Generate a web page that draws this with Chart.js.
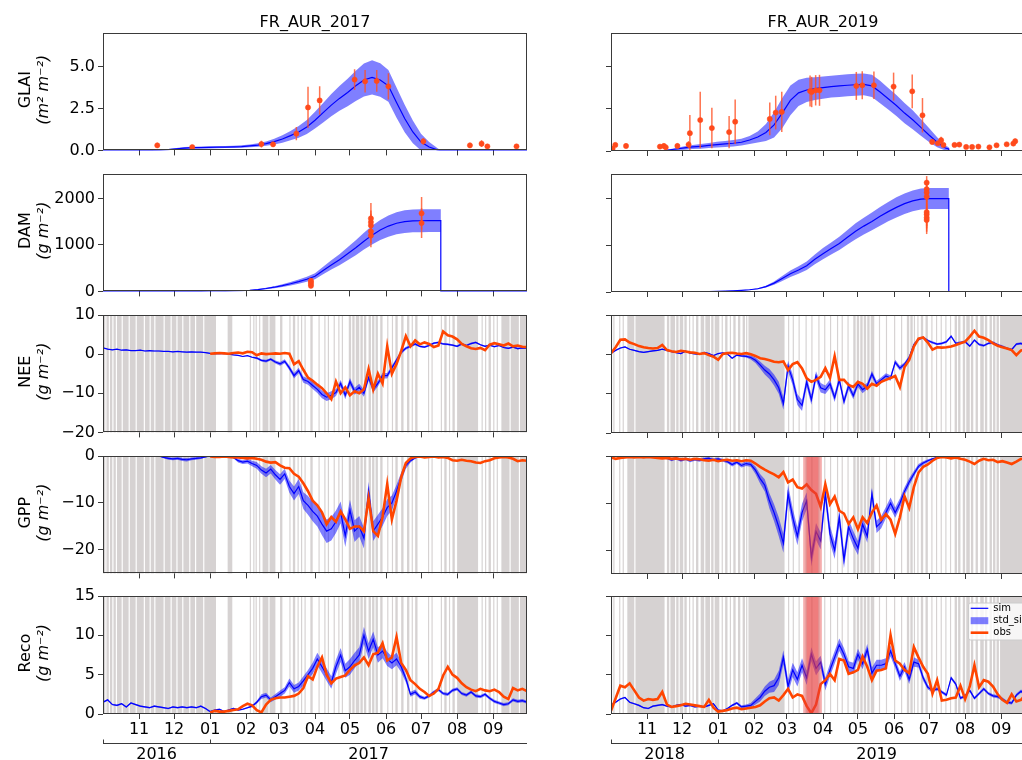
<!DOCTYPE html>
<html>
<head>
<meta charset="utf-8">
<script src="https://cdn.jsdelivr.net/npm/chart.js@4.4.0/dist/chart.umd.min.js"></script>
<style>
  html, body { margin: 0; padding: 0; background: #fff; overflow: hidden; width: 1022px; height: 760px; }
  canvas { position: absolute; }
</style>
</head>
<body>
<script>
// ---------- time axis (days since 1 October of the season) ----------
const MONTH_DAYS   = [31, 61, 92, 123, 151, 182, 212, 243, 273, 304, 335];
const MONTH_LABELS = ['11', '12', '01', '02', '03', '04', '05', '06', '07', '08', '09'];
const YEAR_BOUNDS  = [0, 92];
const YEAR_MIDS    = [46, 228];
const YEARS_2017   = ['2016', '2017'];
const YEARS_2019   = ['2018', '2019'];

// weekly sampling for leaf area and biomass (harvest on day 290)
const VEG_DAYS = [0,7,14,21,28,35,42, 49,56,63,70,77,84,91, 98,105,112,119,126,133,140,
  147,154,161,168,175,182,189, 196,203,210,217,224,231,238, 245,252,259,266,273,280,287,
  290,290, 294,301,308,315,322,329,336,343,350,357,364];

// ---------- GLAI ----------
const glaiSimL = [0,0,0,0,0,0,0, 0.01,0.05,0.1,0.14,0.16,0.17,0.18, 0.19,0.2,0.21,0.23,0.27,0.32,0.4,
  0.52,0.68,0.88,1.1,1.4,1.8,2.25, 2.7,3.1,3.45,3.85,4.2,4.35,4.2, 3.85,2.85,1.9,1.1,0.5,0.2,0.03,
  0,0, 0,0,0,0,0,0,0,0,0,0,0];
const glaiStdL = [0,0,0,0,0,0,0, 0.01,0.03,0.05,0.06,0.06,0.06,0.06, 0.06,0.06,0.06,0.07,0.08,0.1,0.13,
  0.17,0.22,0.28,0.35,0.42,0.5,0.58, 0.66,0.74,0.82,0.9,0.98,1.02,1.0, 0.95,0.9,0.82,0.68,0.5,0.3,0.12,
  0,0, 0,0,0,0,0,0,0,0,0,0,0];
const glaiSimR = [0,0,0,0,0,0,0, 0.06,0.12,0.18,0.24,0.28,0.33,0.38, 0.42,0.46,0.52,0.65,0.83,1.1,1.55,
  2.25,3.0,3.45,3.62,3.7,3.76,3.82, 3.86,3.9,3.93,3.95,3.86,3.5,3.1, 2.7,2.25,1.85,1.4,0.95,0.52,0.18,
  0.12,0, 0,0,0,0,0,0,0,0,0,0,0];
const glaiStdR = [0,0,0,0,0,0,0, 0.03,0.06,0.1,0.12,0.14,0.15,0.17, 0.18,0.19,0.2,0.24,0.32,0.5,0.75,
  0.9,0.88,0.78,0.72,0.68,0.66,0.65, 0.65,0.65,0.65,0.65,0.66,0.66,0.64, 0.62,0.6,0.56,0.5,0.42,0.3,0.15,
  0.1,0, 0,0,0,0,0,0,0,0,0,0,0];

const glaiObsDayL = [46.6, 76.6, 136, 146, 166, 176, 186, 216, 225, 235, 245, 275, 315, 325, 330, 355];
const glaiObsL    = [0.3, 0.2, 0.38, 0.36, 1.0, 2.56, 2.98, 4.22, 4.12, 4.14, 3.82, 0.54, 0.3, 0.4, 0.24, 0.24];
const glaiErrL    = [0.15, 0.1, 0.2, 0.15, 0.4, 1.23, 0.85, 0.62, 0.67, 0.65, 0.78, 0.2, 0.15, 0.2, 0.1, 0.1];

const glaiObsDayR = [1.4, 3.7, 12.9, 42, 45.4, 47, 57, 66.6, 67.7, 76.6, 86.6, 101.4, 106.6, 136.3, 141.4, 146.6,
  170.9, 172.3, 175.7, 179, 210.6, 215.7, 225.7, 242.6, 258.6, 267.4, 275.7, 280.6, 283.4, 285.4,
  294.9, 299, 304.9, 310, 315.4, 324.9, 331, 339.7, 345.4, 347];
const glaiObsR = [0.14, 0.36, 0.3, 0.26, 0.3, 0.22, 0.3, 0.38, 1.06, 1.84, 1.36, 1.12, 1.74, 1.9, 2.28, 2.32,
  3.56, 3.5, 3.6, 3.6, 3.86, 3.9, 3.9, 3.82, 3.54, 2.12, 0.54, 0.46, 0.64, 0.36,
  0.36, 0.38, 0.24, 0.24, 0.26, 0.22, 0.34, 0.4, 0.44, 0.58];
const glaiErrR = [0.1, 0.12, 0.15, 0.1, 0.15, 0.08, 0.15, 0.2, 1.08, 1.67, 1.2, 0.96, 1.32, 0.97, 1.0, 1.19,
  0.92, 0.9, 0.9, 0.92, 0.83, 0.83, 0.82, 0.83, 1.0, 1.02, 0.15, 0.1, 0.2, 0.1,
  0.1, 0.12, 0.08, 0.08, 0.12, 0.06, 0.12, 0.1, 0.1, 0.15];

// ---------- DAM ----------
const damSimL = [0,0,0,0,0,0,0, 0,0,1,1,2,2,3, 4,6,10,16,25,40,62,
  90,125,165,210,262,325,450, 570,680,810,940,1080,1210,1320, 1405,1465,1500,1515,1520,1522,1522,
  1522,0, 0,0,0,0,0,0,0,0,0,0,0];
const damStdL = [0,0,0,0,0,0,0, 0,0,0,0,0,0,1, 1,2,3,4,6,9,14,
  20,28,36,45,55,65,80, 100,120,140,160,180,200,215, 228,238,243,245,246,246,246,
  246,0, 0,0,0,0,0,0,0,0,0,0,0];
const damSimR = [0,0,0,0,0,0,0, 1,2,4,6,8,11,15, 20,27,36,48,70,115,190,
  290,390,470,560,700,820,930, 1040,1170,1300,1410,1510,1620,1720, 1810,1890,1950,1988,2000,2000,2000,
  2000,0, 0,0,0,0,0,0,0,0,0,0,0];
const damStdR = [0,0,0,0,0,0,0, 0,0,1,1,1,2,2, 3,4,5,7,12,20,35,
  55,70,80,90,105,120,130, 140,155,170,180,190,200,208, 215,220,223,225,225,225,225,
  225,0, 0,0,0,0,0,0,0,0,0,0,0];

const damObsDayL = [178.5, 178.5, 178.5, 178.5, 230, 230, 230, 230, 230, 273.5, 273.5];
const damObsL    = [120, 160, 200, 230, 1200, 1290, 1420, 1490, 1570, 1470, 1680];
const damErrL    = [40, 40, 40, 30, 250, 250, 250, 250, 330, 320, 350];
const damObsDayR = [271, 271, 271, 271, 271, 271, 271, 271];
const damObsR    = [2340, 2200, 2130, 2040, 1710, 1660, 1590, 1540];
const damErrR    = [140, 200, 200, 200, 300, 300, 300, 300];

// ---------- daily fluxes, sampled every 4 days (day 0 ... 364) ----------
const FLUX_STEP = 4;
const _ = null;

const neeSimL = [1.6,1.3,1.1,1.3,1.0,1.1,0.9,0.9, 1.0,0.8,0.9,0.8,0.8,0.7,0.7,0.6,
  0.7,0.6,0.5,0.6,0.5,0.5,0.4,0.2, 0.1,0.1,0.2,0.0,-0.2,-0.3,-0.6,-0.4,
  -0.8,-1.0,-1.6,-1.8,-1.3,-2.0,-2.5,-1.8, -3.5,-5.5,-4.2,-6.5,-7.0,-8.0,-9.0,-10.3,
  -11.0,-10.5,-9.8,-7.5,-10.5,-7.0,-9.5,-8.5, -10.0,-6.0,-9.0,-7.5,-5.5,-5.5,-3.5,-1.5,
  0.5,1.5,2.0,2.6,2.0,1.8,2.2,2.8, 3.0,2.6,2.5,2.3,2.0,2.6,2.2,2.7,
  3.0,2.4,2.0,2.3,1.9,2.2,1.7,1.5, 1.8,1.4,1.6,1.5];
const neeStdL = [0.1,0.1,0.1,0.1,0.1,0.1,0.1,0.1, 0.1,0.1,0.1,0.1,0.1,0.1,0.1,0.1,
  0.1,0.1,0.1,0.1,0.1,0.1,0.1,0.1, 0.1,0.1,0.1,0.1,0.1,0.1,0.1,0.1,
  0.15,0.3,0.3,0.35,0.3,0.4,0.5,0.5, 0.6,0.7,0.7,0.8,0.8,0.9,0.9,1.0,
  1.0,1.0,0.9,0.9,1.0,0.9,0.9,0.9, 0.9,0.8,0.8,0.8,0.7,0.7,0.6,0.5,
  0.5,0.4,0.3,0.3,0.25,0.25,0.25,0.25, 0.25,0.25,0.25,0.25,0.25,0.25,0.25,0.25,
  0.2,0.2,0.2,0.2,0.2,0.2,0.2,0.2, 0.2,0.2,0.2,0.2];
const neeObsL = [_,_,_,_,_,_,_,_, _,_,_,_,_,_,_,_,
  _,_,_,_,_,_,_,0.1, 0.2,0.3,0.2,0.1,0.3,0.4,0.2,0.6,
  0.5,-0.3,0.2,0.0,0.1,0.2,0.1,0.3, 0.1,-2.6,-1.8,-4.0,-6.0,-6.8,-7.8,-8.7,
  -10.0,-11.5,-7.0,-10.0,-8.5,-10.5,-9.5,-10.0, -9.0,-3.8,-9.0,-5.0,-7.5,2.0,-5.0,-2.5,
  0.8,4.6,2.0,3.5,2.5,3.0,2.6,1.8, 2.2,5.8,4.8,4.5,3.8,2.6,2.0,1.5,
  1.3,1.6,1.0,2.4,2.8,2.5,2.2,2.7, 2.0,2.2,1.9,1.8];

const gppSimL = [0,0,0,0,0,0,0,0, 0,0,0,0,0,-0.3,-0.5,-0.6,
  -0.5,-0.7,-0.8,-0.6,-0.5,-0.4,-0.2,0, 0,0,0,-0.1,-0.3,-1.0,-1.3,-1.1,
  -1.6,-2.0,-3.0,-3.6,-2.8,-4.0,-5.0,-3.8, -6.5,-8.0,-6.5,-9.5,-10.5,-11.8,-12.8,-14.5,
  -16.0,-15.5,-14.0,-12.0,-17.0,-11.5,-16.0,-15.0, -17.5,-7.5,-16.0,-14.5,-13.0,-11.0,-10.0,-7.5,
  -4.5,-2.0,-1.0,-0.4,-0.1,0,0,0, 0,0,0,0,0,0,0,0,
  0,0,0,0,0,0,0,0, 0,0,0,0];
const gppStdL = [0.05,0.05,0.05,0.05,0.05,0.05,0.05,0.05, 0.05,0.05,0.05,0.05,0.1,0.2,0.3,0.3,
  0.3,0.35,0.35,0.3,0.3,0.25,0.1,0.05, 0.05,0.05,0.05,0.1,0.2,0.4,0.4,0.5,
  0.6,0.7,0.8,0.9,0.9,1.0,1.1,1.1, 1.3,1.5,1.6,1.8,2.0,2.1,2.2,2.4,
  2.5,2.5,2.4,2.3,2.4,2.2,2.3,2.2, 2.2,2.0,2.1,2.0,1.9,1.8,1.6,1.4,
  1.0,0.7,0.4,0.2,0.1,0.05,0.05,0.05, 0.05,0.05,0.05,0.05,0.05,0.05,0.05,0.05,
  0.05,0.05,0.05,0.05,0.05,0.05,0.05,0.05, 0.05,0.05,0.05,0.05];
const gppObsL = [_,_,_,_,_,_,_,_, _,_,_,_,_,_,_,_,
  _,_,_,_,_,_,_,-0.1, -0.2,-0.2,-0.1,-0.2,-0.3,-0.3,-0.4,-0.5,
  -0.4,-0.6,-0.8,-1.2,-1.4,-1.3,-2.0,-2.5, -2.6,-3.8,-4.4,-5.8,-7.5,-9.5,-10.5,-12.0,
  -14.5,-13.0,-14.0,-11.8,-13.5,-15.5,-15.0,-15.0, -16.0,-9.0,-16.0,-17.0,-13.0,-6.0,-13.5,-9.5,
  -4.5,-1.5,-0.5,-0.2,-0.1,-0.3,-0.2,-0.1, -0.3,-0.2,-0.4,-0.9,-1.0,-0.8,-1.0,-1.1,
  -1.4,-1.5,-1.1,-0.9,-0.5,-0.3,-0.2,-0.3, -0.6,-1.1,-0.9,-1.0];

const recoSimL = [1.5,1.8,1.2,1.1,1.3,0.9,1.4,1.2, 1.0,0.9,0.8,1.0,0.9,0.8,0.7,0.9,
  0.8,0.9,0.8,0.9,0.8,1.0,0.7,0.3, 0.5,0.6,0.3,0.5,0.7,0.5,0.6,0.8,
  1.0,1.5,2.2,2.4,1.8,2.2,2.6,3.0, 4.0,3.2,3.5,4.2,5.0,5.8,7.0,6.0,
  5.0,4.0,6.0,7.5,5.5,6.0,6.8,7.5, 10.0,8.0,9.5,7.5,8.0,7.0,6.5,7.0,
  6.0,4.5,2.5,2.8,2.2,2.0,2.3,2.8, 3.1,2.6,2.5,3.0,3.2,2.6,2.4,2.8,
  2.3,2.2,2.5,2.0,1.6,1.4,1.2,1.3, 1.8,1.6,1.7,1.5];
const recoStdL = [0.1,0.1,0.1,0.1,0.1,0.1,0.1,0.1, 0.1,0.1,0.1,0.1,0.1,0.1,0.1,0.1,
  0.1,0.1,0.1,0.1,0.1,0.1,0.1,0.1, 0.1,0.1,0.1,0.1,0.1,0.1,0.1,0.1,
  0.15,0.2,0.3,0.3,0.3,0.35,0.4,0.4, 0.5,0.5,0.5,0.6,0.6,0.7,0.8,0.8,
  0.8,0.8,0.9,0.9,0.9,1.0,1.0,1.0, 1.1,1.0,1.0,1.0,0.9,0.9,0.8,0.8,
  0.7,0.5,0.3,0.3,0.25,0.2,0.2,0.2, 0.2,0.2,0.2,0.2,0.2,0.2,0.2,0.2,
  0.2,0.2,0.2,0.2,0.2,0.2,0.2,0.2, 0.2,0.2,0.2,0.2];
const recoObsL = [_,_,_,_,_,_,_,_, _,_,_,_,_,_,_,_,
  _,_,_,_,_,_,_,0.2, 0.4,0.3,0.3,0.4,0.5,0.6,1.0,1.3,
  1.1,0.5,0.2,1.2,1.8,2.0,2.1,2.1, 2.2,2.3,2.6,3.3,4.8,4.4,6.0,7.2,
  5.0,3.9,4.5,4.7,4.9,5.6,6.2,6.5, 7.2,6.2,7.6,7.8,9.0,6.8,7.2,9.8,
  6.5,5.6,4.3,3.8,3.2,2.8,2.3,2.6, 3.2,4.9,6.0,5.0,4.6,3.9,3.4,3.1,
  2.9,3.2,3.0,2.9,3.1,2.8,2.2,1.9, 3.3,3.0,3.2,2.9];

const neeSimR = [0.3,1.0,1.6,1.9,1.3,1.0,0.7,0.5, 0.7,0.9,1.0,1.3,1.0,0.7,0.4,0.2,
  0.8,0.3,0.1,0.0,0.5,0.2,-0.3,0.2, 0.4,0.1,-1.0,-0.2,-0.4,-0.5,-0.8,-1.5,
  -2.7,-4.0,-5.0,-6.5,-8.5,-12.5,-3.0,-6.5, -11.5,-13.0,-7.0,-11.5,-5.5,-8.5,-9.0,-7.5,
  -11.0,-6.5,-12.0,-8.0,-10.5,-7.5,-9.0,-8.0, -5.0,-7.5,-6.5,-5.5,-6.0,-2.0,-3.5,-2.5,
  -0.8,2.5,3.8,4.3,3.5,3.0,2.6,2.8, 3.2,4.6,2.8,3.0,3.2,2.1,3.6,2.5,
  2.2,2.8,3.0,2.4,2.0,1.5,1.2,2.6, 2.8,2.0,1.5,1.2];
const neeStdR = [0.15,0.15,0.15,0.15,0.15,0.15,0.15,0.15, 0.15,0.15,0.15,0.15,0.15,0.15,0.15,0.15,
  0.15,0.15,0.15,0.15,0.15,0.15,0.15,0.15, 0.15,0.15,0.2,0.2,0.25,0.3,0.5,0.7,
  0.9,1.1,1.3,1.4,1.5,1.6,1.4,1.4, 1.4,1.4,1.3,1.3,1.2,1.2,1.1,1.1,
  1.1,1.0,1.0,1.0,0.9,0.9,0.9,0.8, 0.8,0.8,0.7,0.7,0.7,0.6,0.6,0.5,
  0.5,0.4,0.35,0.3,0.3,0.3,0.3,0.3, 0.3,0.3,0.3,0.3,0.3,0.3,0.3,0.3,
  0.3,0.3,0.3,0.3,0.3,0.3,0.3,0.3, 0.3,0.3,0.3,0.3];
const neeObsR = [0.3,1.8,3.7,3.8,3.0,2.6,2.1,1.8, 1.6,1.5,1.6,2.4,1.1,0.8,0.6,0.9,
  0.7,0.5,0.4,0.1,0.3,-0.2,-0.6,-1.4, 0.1,0.3,0.4,0.2,0.1,0.3,0.0,-0.4,
  -1.0,-1.2,-1.5,-1.9,-2.0,-1.8,-4.0,-2.5, -2.0,-3.6,-6.1,-7.0,-6.5,-5.7,-3.5,-6.0,
  -0.5,-6.5,-6.5,-7.8,-8.3,-7.0,-7.5,-8.7, -7.5,-8.0,-7.0,-6.5,-6.0,-5.5,-8.3,-3.2,
  -1.4,2.0,4.0,4.3,3.0,1.2,1.8,1.7, 1.8,2.0,2.4,2.8,3.2,4.5,6.0,4.5,
  4.2,3.6,2.8,2.2,1.8,1.5,1.1,-0.2, 1.0,1.2,0.9,1.0];

const gppSimR = [0,0,0,0,0,0,0,0, 0,0,0,-0.2,-0.4,-0.8,-0.5,-0.9,
  -0.6,-1.0,-0.7,-0.9,-0.6,-0.5,-0.8,-0.6, -0.9,-1.2,-1.8,-1.3,-2.0,-1.6,-1.8,-3.0,
  -4.8,-6.2,-9.5,-12.0,-15.0,-18.5,-8.0,-13.0, -17.0,-12.0,-9.5,-21.5,-16.0,-18.0,-8.0,-16.5,
  -20.0,-13.0,-22.0,-15.0,-17.5,-19.5,-14.5,-17.0, -8.0,-15.0,-14.0,-12.0,-10.0,-12.0,-10.0,-7.5,
  -5.5,-3.8,-2.2,-1.5,-1.0,-0.6,-0.3,-0.1, 0,0,0,0,0,0,0,0,
  0,0,0,0,0,0,0,0, 0,0,0,0];
const gppStdR = [0.05,0.05,0.05,0.05,0.05,0.05,0.05,0.05, 0.05,0.05,0.1,0.2,0.3,0.3,0.3,0.3,
  0.3,0.3,0.3,0.3,0.3,0.3,0.3,0.3, 0.3,0.35,0.4,0.4,0.45,0.5,0.5,0.8,
  1.0,1.3,1.6,1.8,2.0,2.0,1.9,1.9, 1.9,1.9,1.8,1.9,1.8,1.8,1.7,1.8,
  1.8,1.7,1.8,1.6,1.6,1.5,1.4,1.4, 1.3,1.3,1.3,1.2,1.2,1.1,1.0,0.9,
  0.8,0.6,0.5,0.4,0.3,0.2,0.1,0.1, 0.05,0.05,0.05,0.05,0.05,0.05,0.05,0.05,
  0.05,0.05,0.05,0.05,0.05,0.05,0.05,0.05, 0.05,0.05,0.05,0.05];
const gppObsR = [-0.3,-0.6,-0.4,-0.3,-0.2,-0.3,-0.2,-0.3, -0.2,-0.3,-0.4,-0.5,-0.4,-0.6,-0.5,-0.7,
  -0.6,-0.8,-0.6,-0.7,-0.9,-1.0,-0.8,-1.1, -0.9,-0.8,-1.0,-0.9,-1.1,-0.9,-1.0,-1.6,
  -2.3,-2.9,-3.4,-3.9,-4.5,-3.4,-5.6,-5.0, -6.6,-6.9,-6.0,-7.2,-8.0,-10.8,-6.0,-10.2,
  -8.6,-11.6,-12.2,-14.4,-13.0,-15.5,-13.0,-14.2, -12.0,-10.5,-13.5,-12.3,-13.5,-16.5,-13.0,-8.5,
  -11.0,-6.6,-3.5,-2.3,-1.8,-1.0,-0.4,-0.2, -0.3,-0.5,-0.3,-0.6,-0.8,-1.2,-1.7,-1.0,
  -0.6,-0.9,-0.8,-1.3,-1.1,-1.4,-1.7,-1.2, -0.6,-0.8,-1.0,-0.9];

const recoSimR = [1.1,1.5,1.9,2.1,1.5,1.3,1.1,0.8, 0.7,1.0,1.1,1.2,1.0,0.9,1.1,1.2,
  1.0,1.1,0.9,1.0,0.9,1.1,1.3,0.5, 0.4,0.7,1.1,1.4,0.9,1.0,1.1,1.6,
  2.1,2.9,3.4,3.6,4.6,7.2,3.5,5.6, 4.4,6.2,4.6,7.6,5.8,6.6,3.8,5.6,
  7.2,8.8,7.6,6.0,5.8,7.6,6.4,8.2, 5.2,6.2,6.2,6.4,8.0,6.4,4.8,6.0,
  4.4,6.6,6.4,4.6,3.4,3.0,3.2,2.8, 2.4,4.6,3.8,2.0,2.3,3.0,2.0,2.6,
  3.2,2.6,2.3,2.2,1.9,1.5,1.4,2.4, 2.9,2.5,2.2,2.0];
const recoStdR = [0.1,0.1,0.1,0.1,0.1,0.1,0.1,0.1, 0.1,0.1,0.1,0.1,0.1,0.1,0.1,0.1,
  0.1,0.1,0.1,0.1,0.1,0.1,0.1,0.1, 0.1,0.1,0.15,0.15,0.2,0.2,0.3,0.4,
  0.5,0.6,0.7,0.8,0.9,0.9,0.9,0.9, 0.9,0.9,0.9,0.9,0.9,0.8,0.8,0.8,
  0.8,0.8,0.8,0.7,0.7,0.7,0.7,0.7, 0.7,0.7,0.7,0.7,0.7,0.6,0.6,0.6,
  0.6,0.6,0.5,0.4,0.3,0.25,0.2,0.2, 0.2,0.2,0.2,0.2,0.2,0.2,0.2,0.2,
  0.2,0.2,0.2,0.2,0.2,0.2,0.2,0.2, 0.2,0.2,0.2,0.2];
const recoObsR = [0.4,2.0,3.6,3.4,3.9,3.0,2.1,1.7, 1.9,1.8,1.9,2.8,1.2,0.9,1.0,1.1,
  1.3,1.2,1.1,1.0,0.9,1.8,0.8,0.3, 0.4,0.5,0.7,0.8,0.6,0.7,0.8,0.9,
  1.1,1.6,2.0,2.1,1.7,2.4,3.2,2.1, 2.5,2.3,1.0,0.1,1.2,3.8,4.3,5.1,
  4.3,7.0,6.8,5.1,5.3,5.6,7.3,6.0, 4.3,5.5,5.6,5.8,10.0,6.8,6.4,5.6,
  5.2,8.5,7.2,6.0,5.1,2.6,4.3,1.7, 1.8,2.0,2.1,3.6,1.9,3.5,6.2,3.4,
  4.3,4.1,3.5,2.5,1.8,1.4,2.5,1.6, 1.8,2.5,2.2,2.4];

// gap-filled days [start, end] and the excluded window of 2019
const gapDays2017 = [[0,2],[3,5],[6,8],[9,11],[12,16],[17,22],[23,28],[29,35],[36,40],[41,44],[45,52],[53,58],
  [59,63],[64,68],[69,74],[75,79],[80,86],[87,97],[107,111],[126,127],[129,130],[131,132],[134,135],
  [137,142],[143,148],[152,154],[160,161],[163,165],[167,168],[170,171],[173,174],[178,180],[185,186],
  [190,191],[193,194],[198,199],[202,203],[205,206],[211,213],[214,216],[217,220],[221,223],[224,226],
  [228,230],[231,233],[234,236],[238,240],[244,245],[248,249],[251,253],[256,258],[261,263],[265,266],
  [268,270],[279,280],[282,283],[290,291],[293,295],[297,298],[300,302],[304,322],[325,326],[328,329],
  [331,333],[335,336],[338,339],[342,349],[350,357],[358,364]];
const gapDays2019 = [[0,1],[2,3],[7,8],[10,11],[14,20],[21,46],[48,50],[51,55],[56,58],[59,62],[63,65],
  [67,68],[70,71],[73,75],[77,80],[81,85],[86,88],[89,93],[95,96],[98,100],[102,103],[105,107],
  [109,111],[113,115],[116,117],[118,149],[152,153],[156,157],[161,162],[167,168],[172,173],[178,179],
  [183,184],[188,189],[194,195],[198,199],[203,204],[208,210],[211,213],[214,216],[217,219],[220,222],
  [223,226],[230,231],[236,237],[243,244],[249,250],[254,256],[257,259],[260,261],[263,264],[266,268],
  [270,272],[275,276],[279,280],[283,284],[287,288],[291,292],[295,297],[298,300],[302,304],[305,308],
  [309,311],[313,315],[317,320],[321,323],[325,327],[328,330],[331,333],[334,364]];
const excluded2019 = [[165,181],[168,178]];

// ---------- styling ----------
const FONT = 'DejaVu Sans';
const SIM = '#0000ff';
const BAND = 'rgba(0,0,255,0.5)';
const OBS = '#ff4500';
const OBS_PT = '#ff4a1c';
const ERR = 'rgba(255,80,35,0.8)';
const GRAY = '#d6d2d2';
const RED = 'rgba(232,60,60,0.42)';
const AX = '#3a3a3a';

Chart.defaults.font.family = FONT;
Chart.defaults.color = '#000';

const ROW_TOP = [33, 174, 315, 456, 596];
const AREA_H = 118;
const COLS = [
  { left: 0,   width: 540, yw: 103, padR: 13 },
  { left: 520, width: 520, yw: 91,  padR: 5 }
];

const Y_GLAI = { min: 0, max: 7, ticks: [0, 2.5, 5], labels: ['0.0', '2.5', '5.0'], title: ['GLAI', '(m² m⁻²)'] };
const Y_DAM  = { min: 0, max: 2525, ticks: [0, 1000, 2000], labels: ['0', '1000', '2000'], title: ['DAM', '(g m⁻²)'] };
const Y_NEE  = { min: -20, max: 10, ticks: [-20, -10, 0, 10], labels: ['−20', '−10', '0', '10'], title: ['NEE', '(g m⁻²)'] };
const Y_GPP  = { min: -25, max: 0, ticks: [-20, -10, 0], labels: ['−20', '−10', '0'], title: ['GPP', '(g m⁻²)'] };
const Y_RECO = { min: 0, max: 15, ticks: [0, 5, 10, 15], labels: ['0', '5', '10', '15'], title: ['Reco', '(g m⁻²)'] };

const FLUX_DAYS = neeSimL.map((v, i) => i * FLUX_STEP);

function pts(xs, ys) { return xs.map((x, i) => ({ x, y: ys[i] })); }

function simSets(days, sim, std) {
  return [
    { data: pts(days, sim.map((v, i) => v - std[i])), borderWidth: 0, pointRadius: 0, fill: false, order: 3 },
    { data: pts(days, sim.map((v, i) => v + std[i])), borderWidth: 0, pointRadius: 0, fill: '-1', backgroundColor: BAND, order: 3 },
    { data: pts(days, sim), borderColor: SIM, borderWidth: 1.2, pointRadius: 0, fill: false, order: 2 }
  ];
}

function decorPlugin(p) {
  return {
    id: 'decor',
    beforeDatasetsDraw(chart) {
      if (!p.gray) return;
      const { ctx, chartArea: a, scales: { x } } = chart;
      ctx.save();
      ctx.fillStyle = GRAY;
      for (const [s, e] of p.gray) {
        const x0 = Math.max(a.left, x.getPixelForValue(s));
        const x1 = Math.min(a.right, x.getPixelForValue(e));
        if (x1 > x0) ctx.fillRect(x0, a.top, x1 - x0, a.bottom - a.top);
      }
      ctx.restore();
    },
    beforeDatasetDraw(chart, args) {
      const o = p.obsPts;
      if (!o || args.index !== 3) return;
      const { ctx, chartArea: a, scales: { x, y } } = chart;
      ctx.save();
      ctx.beginPath();
      ctx.rect(a.left, a.top, a.right - a.left, a.bottom - a.top);
      ctx.clip();
      ctx.strokeStyle = ERR;
      ctx.lineWidth = 1.5;
      o.days.forEach((d, i) => {
        const px = x.getPixelForValue(d);
        ctx.beginPath();
        ctx.moveTo(px, y.getPixelForValue(o.val[i] - o.err[i]));
        ctx.lineTo(px, y.getPixelForValue(o.val[i] + o.err[i]));
        ctx.stroke();
      });
      ctx.restore();
    },
    afterDatasetsDraw(chart) {
      const { ctx, chartArea: a, scales: { x } } = chart;
      ctx.save();
      if (p.red) {
        ctx.fillStyle = RED;
        for (const [s, e] of p.red) {
          const x0 = x.getPixelForValue(s), x1 = x.getPixelForValue(e);
          ctx.fillRect(x0, a.top, x1 - x0, a.bottom - a.top);
        }
      }
      ctx.strokeStyle = AX;
      ctx.lineWidth = 1;
      ctx.strokeRect(Math.round(a.left) + 0.5, Math.round(a.top) + 0.5,
        Math.round(a.right - a.left) - 1, Math.round(a.bottom - a.top) - 1);
      ctx.restore();
    },
    afterDraw(chart) {
      const { ctx, chartArea: a, scales: { x } } = chart;
      // two-line axis label: quantity name upright, unit in italic
      if (p.col === 0) {
        ctx.save();
        ctx.fillStyle = '#000';
        ctx.textAlign = 'center';
        ctx.textBaseline = 'middle';
        ctx.translate(a.left - 77, (a.top + a.bottom) / 2 - 2);
        ctx.rotate(-Math.PI / 2);
        ctx.font = '16px "' + FONT + '"';
        ctx.fillText(p.y.title[0], 0, 0);
        ctx.font = 'italic 16px "' + FONT + '"';
        ctx.fillText(p.y.title[1], 0, 17.5);
        ctx.restore();
      }
      if (p.legend) {
        const bx = a.right - 67, by = a.top + 6.5, bw = 66, bh = 37;
        ctx.save();
        ctx.fillStyle = 'rgba(255,255,255,0.8)';
        ctx.strokeStyle = '#cccccc';
        ctx.lineWidth = 1;
        ctx.beginPath();
        ctx.roundRect(bx + 0.5, by + 0.5, bw, bh, 2);
        ctx.fill();
        ctx.stroke();
        const hx0 = a.right - 64.3, hx1 = a.right - 46.7, tx = a.right - 41.7;
        const rows = [a.top + 12.3, a.top + 24.7, a.top + 36.7];
        ctx.strokeStyle = SIM; ctx.lineWidth = 1.2;
        ctx.beginPath(); ctx.moveTo(hx0, rows[0]); ctx.lineTo(hx1, rows[0]); ctx.stroke();
        ctx.fillStyle = BAND;
        ctx.fillRect(hx0, rows[1] - 3.5, hx1 - hx0, 7);
        ctx.strokeStyle = OBS; ctx.lineWidth = 2.6;
        ctx.beginPath(); ctx.moveTo(hx0, rows[2]); ctx.lineTo(hx1, rows[2]); ctx.stroke();
        ctx.fillStyle = '#000';
        ctx.font = '10px "' + FONT + '"';
        ctx.textBaseline = 'middle';
        ctx.textAlign = 'left';
        p.legend.forEach((t, i) => ctx.fillText(t, tx, rows[i]));
        ctx.restore();
      }
      if (p.years) {
        const yy = Math.round(a.bottom + 29) + 0.5;
        ctx.save();
        ctx.strokeStyle = AX;
        ctx.lineWidth = 1;
        ctx.beginPath();
        ctx.moveTo(x.getPixelForValue(x.min), yy);
        ctx.lineTo(x.getPixelForValue(x.max), yy);
        for (const b of YEAR_BOUNDS) {
          const px = Math.round(x.getPixelForValue(b)) + 0.5;
          ctx.moveTo(px, yy);
          ctx.lineTo(px, yy - 4);
        }
        ctx.stroke();
        ctx.fillStyle = '#000';
        ctx.font = '16px "' + FONT + '"';
        ctx.textAlign = 'center';
        ctx.textBaseline = 'middle';
        p.years.forEach((t, i) => ctx.fillText(t, x.getPixelForValue(YEAR_MIDS[i]), yy + 11));
        ctx.restore();
      }
    }
  };
}

function addPanel(p) {
  const col = COLS[p.col];
  const bottomRow = p.row === 4;
  const xh = bottomRow ? 50 : 12;
  const H = 30 + AREA_H + xh;
  const cv = document.createElement('canvas');
  cv.width = col.width;
  cv.height = H;
  cv.style.left = col.left + 'px';
  cv.style.top = (ROW_TOP[p.row] - 30) + 'px';
  cv.style.width = col.width + 'px';
  cv.style.height = H + 'px';
  document.body.appendChild(cv);

  const datasets = simSets(p.days, p.sim, p.std);
  if (p.obsLine) {
    datasets.push({ data: pts(FLUX_DAYS, p.obsLine), borderColor: OBS, borderWidth: 2.6,
      pointRadius: 0, fill: false, order: 1, spanGaps: false });
  }
  if (p.obsPts) {
    datasets.push({ data: pts(p.obsPts.days, p.obsPts.val), showLine: false, pointRadius: 2.6,
      pointBackgroundColor: OBS_PT, pointBorderColor: OBS_PT, pointBorderWidth: 0.5, fill: false, order: 1 });
  }

  const grid = { display: true, drawOnChartArea: false, drawTicks: true, tickLength: 5,
    color: AX, tickColor: AX, lineWidth: 1, tickWidth: 1 };

  new Chart(cv, {
    type: 'line',
    data: { datasets },
    options: {
      responsive: false,
      animation: false,
      devicePixelRatio: 1,
      events: [],
      layout: { padding: { top: p.row === 0 ? 0 : 30, right: col.padR, bottom: 0, left: 0 } },
      elements: { line: { tension: 0 } },
      plugins: {
        legend: { display: false },
        tooltip: { enabled: false },
        title: {
          display: p.row === 0, text: p.title || '', fullSize: false, color: '#000',
          font: { size: 16, weight: 'normal', lineHeight: 1.2 }, padding: { top: 10, bottom: 0.8 }
        }
      },
      scales: {
        x: {
          type: 'linear', min: 0, max: 364,
          afterBuildTicks: s => { s.ticks = MONTH_DAYS.map(v => ({ value: v })); },
          afterFit: s => { s.height = xh; },
          grid, border: { display: false },
          ticks: { display: bottomRow, autoSkip: false, maxRotation: 0, padding: 1, color: '#000',
            font: { size: 16 }, callback: (v, i) => MONTH_LABELS[i] }
        },
        y: {
          type: 'linear', min: p.y.min, max: p.y.max,
          afterBuildTicks: s => { s.ticks = p.y.ticks.map(v => ({ value: v })); },
          afterFit: s => { s.width = col.yw; },
          grid, border: { display: false },
          ticks: { display: p.col === 0, padding: 3, color: '#000', font: { size: 16 },
            callback: (v, i) => p.y.labels[i] },
          title: { display: false }
        }
      }
    },
    plugins: [decorPlugin(p)]
  });
}

const panels = [
  { row: 0, col: 0, title: 'FR_AUR_2017', y: Y_GLAI, days: VEG_DAYS, sim: glaiSimL, std: glaiStdL,
    obsPts: { days: glaiObsDayL, val: glaiObsL, err: glaiErrL } },
  { row: 0, col: 1, title: 'FR_AUR_2019', y: Y_GLAI, days: VEG_DAYS, sim: glaiSimR, std: glaiStdR,
    obsPts: { days: glaiObsDayR, val: glaiObsR, err: glaiErrR } },
  { row: 1, col: 0, y: Y_DAM, days: VEG_DAYS, sim: damSimL, std: damStdL,
    obsPts: { days: damObsDayL, val: damObsL, err: damErrL } },
  { row: 1, col: 1, y: Y_DAM, days: VEG_DAYS, sim: damSimR, std: damStdR,
    obsPts: { days: damObsDayR, val: damObsR, err: damErrR } },
  { row: 2, col: 0, y: Y_NEE, days: FLUX_DAYS, sim: neeSimL, std: neeStdL, obsLine: neeObsL, gray: gapDays2017 },
  { row: 2, col: 1, y: Y_NEE, days: FLUX_DAYS, sim: neeSimR, std: neeStdR, obsLine: neeObsR, gray: gapDays2019 },
  { row: 3, col: 0, y: Y_GPP, days: FLUX_DAYS, sim: gppSimL, std: gppStdL, obsLine: gppObsL, gray: gapDays2017 },
  { row: 3, col: 1, y: Y_GPP, days: FLUX_DAYS, sim: gppSimR, std: gppStdR, obsLine: gppObsR, gray: gapDays2019,
    red: excluded2019 },
  { row: 4, col: 0, y: Y_RECO, days: FLUX_DAYS, sim: recoSimL, std: recoStdL, obsLine: recoObsL, gray: gapDays2017,
    years: YEARS_2017 },
  { row: 4, col: 1, y: Y_RECO, days: FLUX_DAYS, sim: recoSimR, std: recoStdR, obsLine: recoObsR, gray: gapDays2019,
    red: excluded2019, years: YEARS_2019, legend: ['sim', 'std_sim', 'obs'] }
];

panels.forEach(addPanel);
</script>
</body>
</html>
